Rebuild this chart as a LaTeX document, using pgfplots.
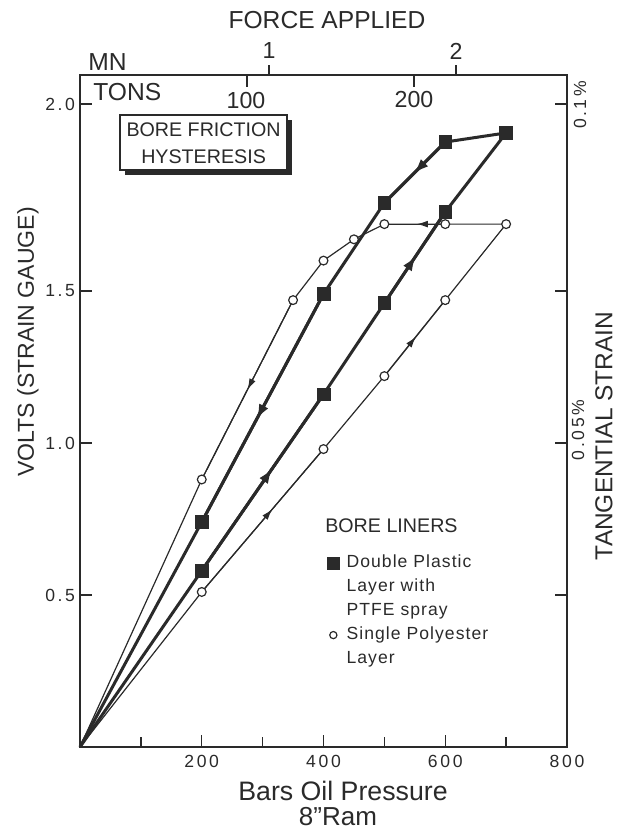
\documentclass[border=0pt]{standalone}
\usepackage{fontspec}
\setmainfont{Liberation Sans}
\newfontfamily\spaced{Liberation Sans}[LetterSpace=15]
\newfontfamily\legfont{Liberation Sans}[LetterSpace=6]
\usepackage{pgfplots}
\pgfplotsset{compat=1.18}
\usetikzlibrary{arrows.meta,decorations.markings}
\definecolor{ink}{HTML}{2A2A2A}
\tikzset{
  arr/.style 2 args={postaction={decorate},decoration={markings,mark=at position #1 with {\arrow{#2}}}},
}
\pgfplotsset{
  dblline/.style={ink, line width=0.75mm, no marks, forget plot},
  sglline/.style={ink, line width=0.3mm, no marks, forget plot},
}
\newcommand{\BigA}{Latex[length=3.8mm,width=2.6mm]}
\newcommand{\SmA}{Latex[length=2.8mm,width=1.7mm]}
\begin{document}
\begin{tikzpicture}
\path[use as bounding box] (-20mm,-21.25mm) rectangle (136.25mm,186.75mm);
\begin{axis}[
  at={(0,0)}, anchor=south west,
  scale only axis, width=121.75mm, height=168mm,
  xmin=0, xmax=800, ymin=0, ymax=2.2105,
  axis line style={ink, line width=0.5mm},
  every tick/.style={ink, line width=0.35mm},
  tick align=inside,
  xtick={200,400,600,800}, xticklabels={200,400,600,800},
  minor xtick={100,300,500,700},
  ytick={0.5,1,1.5,2.115}, yticklabels={0.5,1.0,1.5,2.0},
  xtick pos=left, ytick pos=both, yticklabel pos=left,
  major tick length=3mm, minor tick length=2.5mm,
  xticklabel style={font=\spaced\fontsize{12.5}{13}\selectfont, text=ink, yshift=-0.9mm},
  yticklabel style={font=\spaced\fontsize{12.5}{13}\selectfont, text=ink},
  clip=false,
  legend cell align=left,
  legend style={at={(0.495,0.286)}, anchor=north west, draw=none, fill=none,
    inner sep=0pt, row sep=2.0mm, column sep=1.8mm,
    nodes={inner sep=0pt, text height=3.2mm, text depth=0.8mm},
    font=\legfont\fontsize{12.5}{15}\selectfont, text=ink},
]
% Double plastic layer (loading / unloading)
\addplot[dblline] coordinates {(0,0) (200,0.58) (400,1.16) (500,1.46) (600,1.76) (700,2.02)};
\addplot[dblline] coordinates {(700,2.02) (600,1.99) (500,1.79) (400,1.49) (200,0.74) (0,0)};
% Single polyester layer
\addplot[sglline] coordinates {(0,0) (200,0.51) (400,0.98) (500,1.22) (600,1.47) (700,1.72)};
\addplot[sglline] coordinates {(700,1.72) (600,1.72) (500,1.72) (450,1.67) (400,1.60) (350,1.47) (200,0.88) (0,0)};
% direction arrows
\addplot[dblline, arr={0.58}{\BigA}] coordinates {(200,0.58) (400,1.16)};
\addplot[dblline, arr={0.52}{\BigA}] coordinates {(500,1.46) (600,1.76)};
\addplot[dblline, arr={0.52}{\BigA}] coordinates {(600,1.99) (500,1.79)};
\addplot[dblline, arr={0.55}{\BigA}] coordinates {(400,1.49) (200,0.74)};
\addplot[sglline, arr={0.58}{\SmA}] coordinates {(200,0.51) (400,0.98)};
\addplot[sglline, arr={0.52}{\SmA}] coordinates {(500,1.22) (600,1.47)};
\addplot[sglline, arr={0.47}{\SmA}] coordinates {(600,1.72) (500,1.72)};
\addplot[sglline, arr={0.50}{\SmA}] coordinates {(350,1.47) (200,0.88)};
% marks
\addplot[only marks, mark=*, mark size=1.1mm, forget plot,
  mark options={fill=white, draw=ink, line width=0.3mm}]
  coordinates {(200,0.51) (400,0.98) (500,1.22) (600,1.47) (700,1.72)
               (600,1.72) (500,1.72) (450,1.67) (400,1.60) (350,1.47) (200,0.88)};
\addplot[only marks, mark=square*, mark size=1.6mm, forget plot,
  mark options={fill=ink, draw=ink}]
  coordinates {(200,0.58) (400,1.16) (500,1.46) (600,1.76) (700,2.02)
               (600,1.99) (500,1.79) (400,1.49) (200,0.74)};
\addlegendimage{only marks, mark=square*, mark size=1.5mm, mark options={fill=ink, draw=ink}}
\addlegendentry{Double Plastic}
\addlegendimage{empty legend}
\addlegendentry{Layer with}
\addlegendimage{empty legend}
\addlegendentry{PTFE spray}
\addlegendimage{only marks, mark=*, mark size=0.9mm, mark options={fill=white, draw=ink, line width=0.3mm}}
\addlegendentry{Single Polyester}
\addlegendimage{empty legend}
\addlegendentry{Layer}
\end{axis}
% top axis ticks (tons inside, MN outside)
\draw[ink, line width=0.35mm] (41.75mm,168mm) -- ++(0,-3mm);
\draw[ink, line width=0.35mm] (83.5mm,168mm) -- ++(0,-3mm);
\draw[ink, line width=0.35mm] (47.25mm,168mm) -- ++(0,2.5mm);
\draw[ink, line width=0.35mm] (94mm,168mm) -- ++(0,2.5mm);
\node[text=ink, font=\fontsize{16.5}{18}\selectfont] at (47.25mm,174.2mm) {1};
\node[text=ink, font=\fontsize{16.5}{18}\selectfont] at (94mm,174mm) {2};
\node[text=ink, font=\fontsize{16.5}{18}\selectfont] at (41.5mm,161.5mm) {100};
\node[text=ink, font=\fontsize{16.5}{18}\selectfont] at (83.5mm,161.75mm) {200};
\node[text=ink, font=\fontsize{17.5}{19}\selectfont, anchor=west, inner sep=0pt] at (2mm,171.25mm) {MN};
\node[text=ink, font=\fontsize{17.5}{19}\selectfont, anchor=west, inner sep=0pt] at (3.25mm,163.75mm) {TONS};
\node[text=ink, font=\fontsize{17.5}{19}\selectfont] at (61.75mm,181.75mm) {FORCE APPLIED};
% axis titles
\node[text=ink, font=\fontsize{16.4}{18}\selectfont, rotate=90] at (-13mm,101.25mm) {VOLTS (STRAIN GAUGE)};
\node[text=ink, font=\fontsize{17.4}{19}\selectfont, rotate=90] at (131mm,77.75mm) {TANGENTIAL STRAIN};
\node[text=ink, font=\fontsize{19}{21}\selectfont] at (65.75mm,-11mm) {Bars Oil Pressure};
\node[text=ink, font=\fontsize{18.5}{20}\selectfont, inner sep=0pt] at (64.5mm,-17.4mm) {8"Ram};
% right axis labels
\node[text=ink, font=\spaced\fontsize{12.5}{13}\selectfont, rotate=90] at (125mm,160.5mm) {0.1\%};
\node[text=ink, font=\spaced\fontsize{12.5}{13}\selectfont, rotate=90] at (124.5mm,79.25mm) {0.05\%};
% title box with shadow
\fill[ink] (11.2mm,143.1mm) rectangle (53mm,156.8mm);
\draw[ink, line width=0.3mm, fill=white] (10mm,144.25mm) rectangle (51.75mm,158mm);
\node[text=ink, font=\fontsize{14}{15}\selectfont] at (30.9mm,154.25mm) {BORE FRICTION};
\node[text=ink, font=\fontsize{14}{15}\selectfont] at (30.9mm,147.5mm) {HYSTERESIS};
% legend heading
\node[text=ink, font=\fontsize{14}{15}\selectfont, anchor=west, inner sep=0pt] at (61.25mm,55.25mm) {BORE LINERS};
\end{tikzpicture}
\end{document}
